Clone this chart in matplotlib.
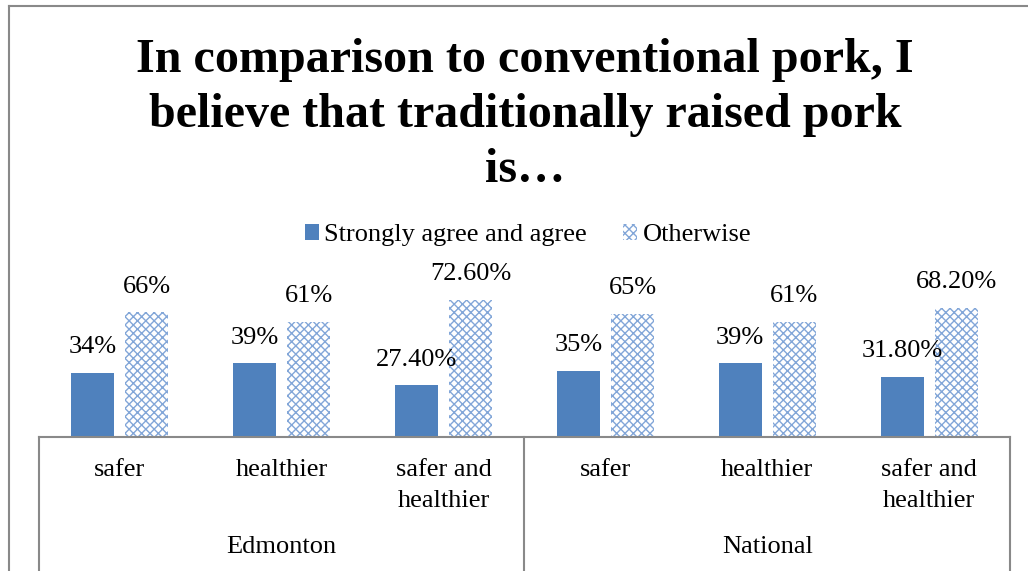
import matplotlib
matplotlib.use("Agg")
import matplotlib.pyplot as plt
from matplotlib.lines import Line2D
from matplotlib.patches import Patch
import matplotlib.transforms as mtransforms
import numpy as np

plt.rcParams['font.family'] = ['Liberation Serif', 'DejaVu Serif']
plt.rcParams['hatch.linewidth'] = 1.0

# Survey results
categories = ["safer", "healthier", "safer and\nhealthier",
              "safer", "healthier", "safer and\nhealthier"]
groups = ["Edmonton", "National"]
agree = [34, 39, 27.4, 35, 39, 31.8]
otherwise = [66, 61, 72.6, 65, 61, 68.2]
agree_labels = ["34%", "39%", "27.40%", "35%", "39%", "31.80%"]
otherwise_labels = ["66%", "61%", "72.60%", "65%", "61%", "68.20%"]
series_names = ["Strongly agree and agree", "Otherwise"]

W, H = 1028, 571
fig = plt.figure(figsize=(W / 100, H / 100), dpi=100)

x0, x1 = 39, 1010
base = 437
px_per_pct = 1.89
ymax = 80
ax = fig.add_axes([x0 / W, 1 - base / H, (x1 - x0) / W, ymax * px_per_pct / H])

blue = '#4F81BD'
hatch_col = '#82a6d8'
gray = '#898989'
fs = 19
x = np.arange(len(categories))
bw = 0.266
off = 0.167

b1 = ax.bar(x - off, agree, bw, color=blue, zorder=2)
b2 = ax.bar(x + off, otherwise, bw, facecolor='white', edgecolor=hatch_col,
            hatch='xxxx', linewidth=0, zorder=2)

for bars, labels in [(b1, agree_labels), (b2, otherwise_labels)]:
    for rect, lab in zip(bars, labels):
        ax.annotate(lab, (rect.get_x() + rect.get_width() / 2, rect.get_height()),
                    xytext=(0, 18.5), textcoords='offset points', ha='center',
                    va='center', fontsize=fs, annotation_clip=False)

ax.set_xlim(-0.5, len(categories) - 0.5)
ax.set_ylim(0, ymax)
ax.set_yticks([])
ax.set_xticks(x)
ax.set_xticklabels(categories, fontsize=fs, linespacing=1.5, va='top')
ax.tick_params(axis='x', length=0, pad=16)
for s in ['top', 'right', 'left']:
    ax.spines[s].set_visible(False)
ax.spines['bottom'].set_color(gray)
ax.spines['bottom'].set_linewidth(1.5)

# Group separators and group names below the axis
trans = mtransforms.blended_transform_factory(ax.transData, fig.transFigure)
for xs in [-0.5, 2.5, 5.5]:
    fig.add_artist(Line2D([xs, xs], [1 - base / H, 0.0], transform=trans,
                          color=gray, linewidth=1.5))
for i, g in enumerate(groups):
    fig.text(1 + 3 * i, 1 - 547 / H, g, transform=trans, ha='center',
             va='center', fontsize=fs)

# Chart frame
fig.add_artist(Line2D([9 / W, 9 / W], [0, 1 - 6 / H], transform=fig.transFigure,
                      color=gray, linewidth=1.5))
fig.add_artist(Line2D([9 / W, 1.0], [1 - 6 / H, 1 - 6 / H], transform=fig.transFigure,
                      color=gray, linewidth=1.5))

fig.text(525 / W, 1 - 115 / H,
         "In comparison to conventional pork, I\nbelieve that traditionally raised pork\nis\u2026",
         ha='center', va='center', fontsize=34.6, fontweight='bold', linespacing=1.32)

handles = [Patch(facecolor=blue, edgecolor='none'),
           Patch(facecolor='white', edgecolor=hatch_col, hatch='xxxx', linewidth=0)]
fig.legend(handles, series_names, loc='center', bbox_to_anchor=(528 / W, 1 - 235 / H),
           ncol=2, frameon=False, fontsize=fs, handlelength=0.55, handleheight=0.55,
           handletextpad=0.2, columnspacing=1.35)

fig.savefig("out.png", dpi=100)
